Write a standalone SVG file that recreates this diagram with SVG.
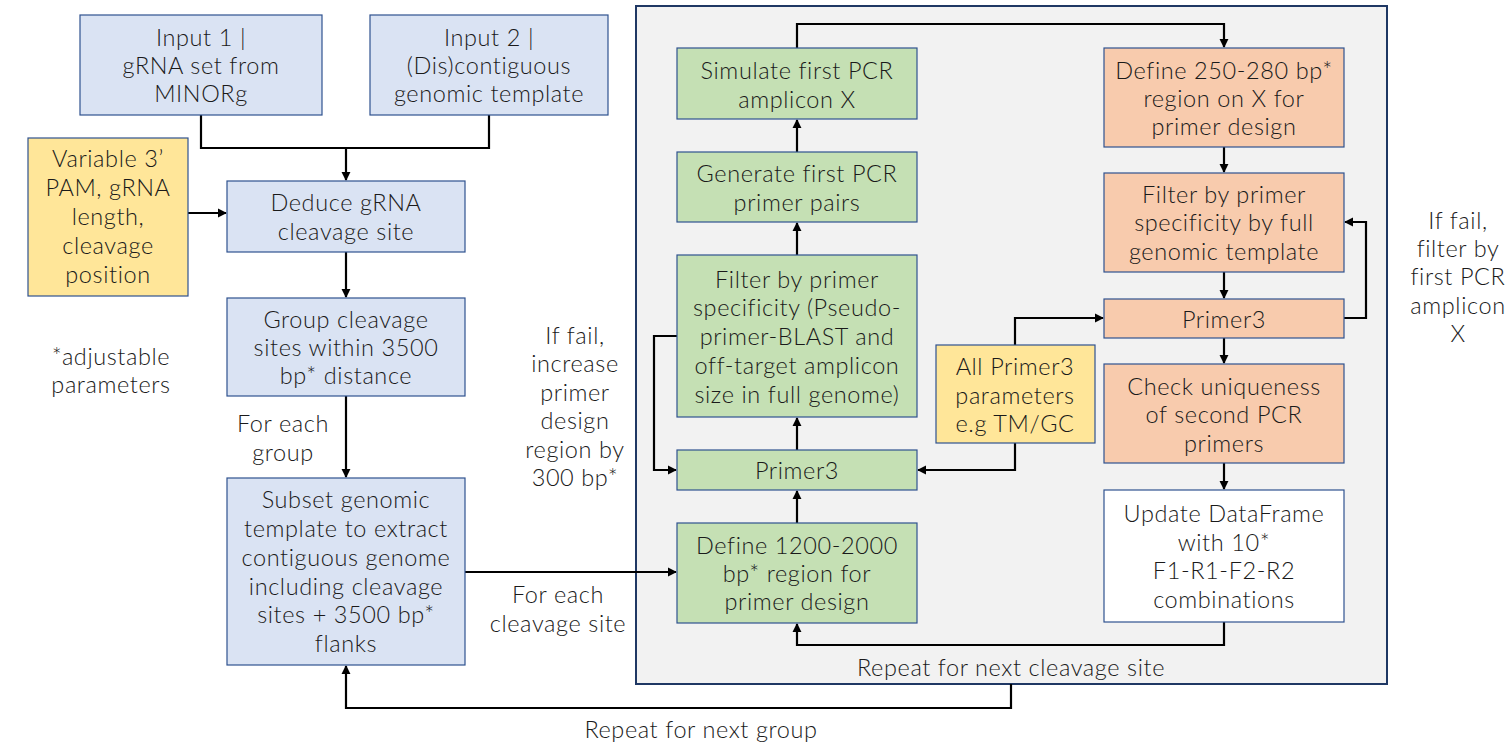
<svg xmlns="http://www.w3.org/2000/svg" width="1512" height="756" viewBox="0 0 1512 756">
<style>
text{font-family:Lato,"Open Sans","Liberation Sans",sans-serif;font-weight:300;font-size:23.5px;letter-spacing:0.6px;fill:#1a1a1a;text-anchor:middle;dominant-baseline:central}
.blue{fill:#dae3f3;stroke:#2f528f;stroke-width:1.2}
.green{fill:#c5e0b4;stroke:#2f528f;stroke-width:1.2}
.orange{fill:#f8cbad;stroke:#2f528f;stroke-width:1.2}
.yellow{fill:#ffe699;stroke:#2f528f;stroke-width:1.2}
.white{fill:#ffffff;stroke:#2f528f;stroke-width:1.2}
.c{fill:none;stroke:#000;stroke-width:2.2}
.a{marker-end:url(#ar)}
</style>
<defs>
<marker id="ar" viewBox="0 0 10 10" refX="9" refY="5" markerWidth="4.2" markerHeight="4.2" orient="auto" markerUnits="strokeWidth">
<path d="M0,0 L10,5 L0,10 z" fill="#000"/>
</marker>
</defs>
<rect width="1512" height="756" fill="#fff"/>
<g id="container">
<rect x="636" y="6" width="751" height="678" fill="#f2f2f2" stroke="#1f3864" stroke-width="2"/>
</g>
<g id="connectors">
<path class="c" d="M201,115 V148 H489 V115"/>
<path class="c a" d="M346,148 V180"/>
<path class="c a" d="M188,213 H226"/>
<path class="c a" d="M346,252 V297"/>
<path class="c a" d="M346,396 V477"/>
<path class="c a" d="M465,572 H676"/>
<path class="c a" d="M1011,684 V708 H346 V666"/>
<path class="c a" d="M797,450 V418"/>
<path class="c a" d="M797,255 V223"/>
<path class="c a" d="M797,152 V120"/>
<path class="c a" d="M797,523 V491"/>
<path class="c a" d="M797,48 V24 H1224 V47"/>
<path class="c a" d="M677,336 H654 V470 H676"/>
<path class="c a" d="M1015,345 V318 H1103"/>
<path class="c a" d="M1015,443 V470 H918"/>
<path class="c a" d="M1224,147 V172"/>
<path class="c a" d="M1224,272 V298"/>
<path class="c a" d="M1224,338 V363"/>
<path class="c a" d="M1224,463 V489"/>
<path class="c a" d="M1344,318 H1366 V222 H1345"/>
<path class="c a" d="M1224,622 V645 H797 V624"/>
</g>
<g id="input1">
<rect class="blue" x="80" y="15" width="242" height="100"/>
<text x="201" y="37">Input 1 |</text>
<text x="201" y="65">gRNA set from</text>
<text x="201" y="93">MINORg</text>
</g>
<g id="input2">
<rect class="blue" x="370" y="15" width="238" height="100"/>
<text x="489" y="37">Input 2 |</text>
<text x="489" y="65">(Dis)contiguous</text>
<text x="489" y="93">genomic template</text>
</g>
<g id="variable">
<rect class="yellow" x="28" y="138" width="160" height="158"/>
<text x="108" y="158">Variable 3’</text>
<text x="108" y="187">PAM, gRNA</text>
<text x="108" y="216">length,</text>
<text x="108" y="245">cleavage</text>
<text x="108" y="274">position</text>
</g>
<g id="deduce">
<rect class="blue" x="227" y="181" width="238" height="71"/>
<text x="346" y="202">Deduce gRNA</text>
<text x="346" y="231">cleavage site</text>
</g>
<g id="group">
<rect class="blue" x="227" y="298" width="238" height="98"/>
<text x="346" y="319">Group cleavage</text>
<text x="346" y="347">sites within 3500</text>
<text x="346" y="375">bp* distance</text>
</g>
<g id="note">
<text x="111" y="356">*adjustable</text>
<text x="111" y="384">parameters</text>
</g>
<g id="foreachgroup">
<text x="283" y="423">For each</text>
<text x="283" y="452">group</text>
</g>
<g id="subset">
<rect class="blue" x="227" y="478" width="238" height="187"/>
<text x="346" y="499">Subset genomic</text>
<text x="346" y="528">template to extract</text>
<text x="346" y="557">contiguous genome</text>
<text x="346" y="586">including cleavage</text>
<text x="346" y="614">sites + 3500 bp*</text>
<text x="346" y="643">flanks</text>
</g>
<g id="foreachsite">
<text x="558" y="594">For each</text>
<text x="558" y="623">cleavage site</text>
</g>
<g id="repeatgroup">
<text x="701" y="729">Repeat for next group</text>
</g>
<g id="iffail1">
<text x="575" y="335">If fail,</text>
<text x="575" y="363">increase</text>
<text x="575" y="392">primer</text>
<text x="575" y="420">design</text>
<text x="575" y="449">region by</text>
<text x="575" y="477">300 bp*</text>
</g>
<g id="simulate">
<rect class="green" x="677" y="48" width="240" height="71"/>
<text x="797" y="70">Simulate first PCR</text>
<text x="797" y="99">amplicon X</text>
</g>
<g id="generate">
<rect class="green" x="677" y="152" width="240" height="70"/>
<text x="797" y="173">Generate first PCR</text>
<text x="797" y="202">primer pairs</text>
</g>
<g id="filter1">
<rect class="green" x="677" y="255" width="240" height="162"/>
<text x="797" y="279">Filter by primer</text>
<text x="797" y="307">specificity (Pseudo-</text>
<text x="797" y="336">primer-BLAST and</text>
<text x="797" y="365">off-target amplicon</text>
<text x="797" y="394">size in full genome)</text>
</g>
<g id="primer3a">
<rect class="green" x="677" y="450" width="240" height="40"/>
<text x="797" y="470">Primer3</text>
</g>
<g id="define1200">
<rect class="green" x="677" y="523" width="240" height="100"/>
<text x="797" y="545">Define 1200-2000</text>
<text x="797" y="573">bp* region for</text>
<text x="797" y="601">primer design</text>
</g>
<g id="params">
<rect class="yellow" x="936" y="345" width="159" height="98"/>
<text x="1015" y="366">All Primer3</text>
<text x="1015" y="395">parameters</text>
<text x="1015" y="423">e.g TM/GC</text>
</g>
<g id="define250">
<rect class="orange" x="1104" y="48" width="240" height="99"/>
<text x="1224" y="70">Define 250-280 bp*</text>
<text x="1224" y="98">region on X for</text>
<text x="1224" y="126">primer design</text>
</g>
<g id="filter2">
<rect class="orange" x="1104" y="173" width="240" height="99"/>
<text x="1224" y="194">Filter by primer</text>
<text x="1224" y="222">specificity by full</text>
<text x="1224" y="251">genomic template</text>
</g>
<g id="primer3b">
<rect class="orange" x="1104" y="299" width="240" height="39"/>
<text x="1224" y="319">Primer3</text>
</g>
<g id="check">
<rect class="orange" x="1104" y="364" width="240" height="99"/>
<text x="1224" y="386">Check uniqueness</text>
<text x="1224" y="414">of second PCR</text>
<text x="1224" y="443">primers</text>
</g>
<g id="update">
<rect class="white" x="1104" y="490" width="240" height="132"/>
<text x="1224" y="513">Update DataFrame</text>
<text x="1224" y="542">with 10*</text>
<text x="1224" y="570">F1-R1-F2-R2</text>
<text x="1224" y="599">combinations</text>
</g>
<g id="iffail2">
<text x="1458" y="220">If fail,</text>
<text x="1458" y="248">filter by</text>
<text x="1458" y="276">first PCR</text>
<text x="1458" y="305">amplicon</text>
<text x="1458" y="333">X</text>
</g>
<g id="repeatsite">
<text x="1011" y="667">Repeat for next cleavage site</text>
</g>
</svg>
